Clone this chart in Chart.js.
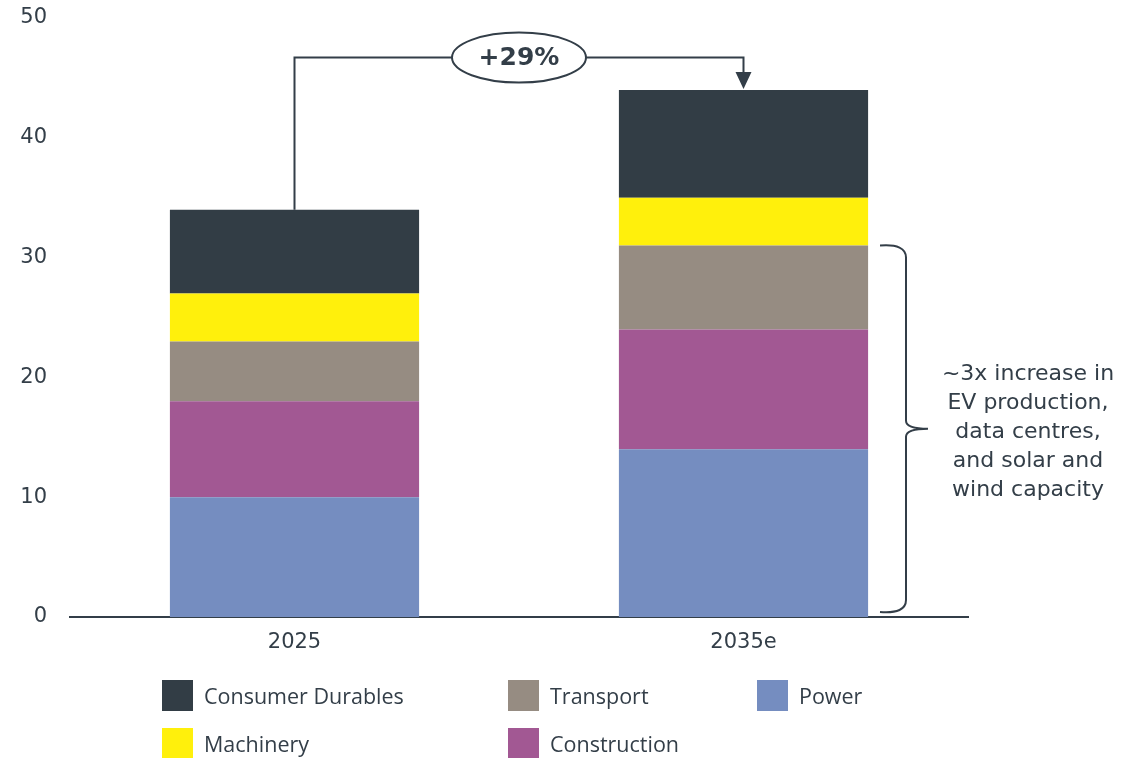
<!DOCTYPE html>
<html>
<head>
<meta charset="utf-8">
<script src="https://cdn.jsdelivr.net/npm/chart.js@4.4.1/dist/chart.umd.min.js"></script>
<style>
  html, body { margin: 0; padding: 0; background: #ffffff; }
  #wrap { position: relative; width: 1137px; height: 758px; overflow: hidden; }
  #c { position: absolute; left: 0; top: 0; }
  .leg { position: absolute; font-family: "Open Sans", sans-serif; font-size: 21.5px; color: #333e48; display: flex; align-items: center; white-space: nowrap; height: 31px; }
  .sw { width: 31px; height: 31px; margin-right: 11px; flex: none; }
</style>
</head>
<body>
<div id="wrap">
  <canvas id="c" width="1137" height="758"></canvas>
  <div id="legend"></div>
</div>
<script>
const categories = ['2025', '2035e'];
const power = [10, 14];
const construction = [8, 10];
const transport = [5, 7];
const machinery = [4, 4];
const consumerDurables = [7, 9];
const yTicks = [0, 10, 20, 30, 40, 50];
const growthLabel = '+29%';
const braceLines = ['~3x increase in', 'EV production,', 'data centres,', 'and solar and', 'wind capacity'];

const INK = '#333e48';
const FONT = '"DejaVu Sans", sans-serif';

const datasets = [
  { label: 'Power', data: power, backgroundColor: '#758dc0' },
  { label: 'Construction', data: construction, backgroundColor: '#a25893' },
  { label: 'Transport', data: transport, backgroundColor: '#968c82' },
  { label: 'Machinery', data: machinery, backgroundColor: '#fff00c' },
  { label: 'Consumer Durables', data: consumerDurables, backgroundColor: '#323d45' }
];

const totals = categories.map((_, i) => datasets.reduce((s, d) => s + d.data[i], 0));
const braceTop = power[1] + construction[1] + transport[1];

const annot = {
  id: 'annot',
  afterDatasetsDraw(chart) {
    const ctx = chart.ctx;
    const x = chart.scales.x, y = chart.scales.y;
    ctx.save();
    ctx.strokeStyle = INK;
    ctx.fillStyle = INK;
    ctx.lineWidth = 2;
    // connector
    const x0 = x.getPixelForValue(0), x1 = x.getPixelForValue(1);
    const yTop0 = y.getPixelForValue(totals[0]);
    const yTop1 = y.getPixelForValue(totals[1]);
    const yLine = y.getPixelForValue(46.7);
    ctx.beginPath();
    ctx.moveTo(x0, yTop0);
    ctx.lineTo(x0, yLine);
    ctx.lineTo(x1, yLine);
    ctx.lineTo(x1, yTop1 - 16);
    ctx.stroke();
    ctx.beginPath();
    ctx.moveTo(x1 - 8, yTop1 - 18);
    ctx.lineTo(x1 + 8, yTop1 - 18);
    ctx.lineTo(x1, yTop1 - 1);
    ctx.closePath();
    ctx.fill();
    // ellipse
    const cx = (x0 + x1) / 2;
    ctx.beginPath();
    ctx.ellipse(cx, yLine, 67, 25, 0, 0, Math.PI * 2);
    ctx.fillStyle = '#ffffff';
    ctx.fill();
    ctx.stroke();
    ctx.fillStyle = INK;
    ctx.font = 'bold 25px ' + FONT;
    ctx.textAlign = 'center';
    ctx.textBaseline = 'middle';
    ctx.fillText(growthLabel, cx, yLine + 1);
    // brace
    const bTop = y.getPixelForValue(braceTop);
    const bBot = y.getPixelForValue(0) - 5;
    const bMid = (bTop + bBot) / 2;
    const bx = chart.chartArea.right - 62;
    ctx.beginPath();
    ctx.moveTo(bx - 26, bTop);
    ctx.quadraticCurveTo(bx, bTop - 2, bx, bTop + 12);
    ctx.lineTo(bx, bMid - 8);
    ctx.quadraticCurveTo(bx, bMid, bx + 22, bMid);
    ctx.moveTo(bx + 22, bMid);
    ctx.quadraticCurveTo(bx, bMid, bx, bMid + 8);
    ctx.lineTo(bx, bBot - 12);
    ctx.quadraticCurveTo(bx, bBot + 2, bx - 26, bBot);
    ctx.stroke();
    ctx.font = '22px ' + FONT;
    ctx.textAlign = 'center';
    const tx = 1028;
    const lh = 29;
    braceLines.forEach((t, i) => {
      ctx.fillText(t, tx, bMid + 3 + (i - (braceLines.length - 1) / 2) * lh);
    });
    ctx.restore();
  }
};

new Chart(document.getElementById('c'), {
  type: 'bar',
  data: { labels: categories, datasets },
  options: {
    responsive: false,
    animation: false,
    layout: { padding: { left: 0, right: 169, top: 18, bottom: 91 } },
    plugins: { legend: { display: false }, tooltip: { enabled: false } },
    datasets: { bar: { barPercentage: 0.555, categoryPercentage: 1.0 } },
    scales: {
      x: {
        stacked: true,
        grid: { display: false, drawTicks: false },
        border: { display: true, color: INK, width: 2 },
        ticks: { color: INK, font: { family: FONT, size: 21 }, padding: 13 },
        afterFit(s) { s.height = 50; }
      },
      y: {
        stacked: true,
        min: 0, max: 50,
        afterBuildTicks(s) { s.ticks = yTicks.map(v => ({ value: v })); },
        grid: { display: false, drawTicks: false },
        border: { display: false },
        ticks: { color: INK, font: { family: FONT, size: 21 }, padding: 23 },
        afterFit(s) { s.width = 70; s.paddingTop = 0; s.paddingBottom = 0; }
      }
    }
  },
  plugins: [annot]
});

// HTML legend (grid of 3 columns)
const legendOrder = ['Consumer Durables', 'Transport', 'Power', 'Machinery', 'Construction'];
const colX = [162, 508, 757];
const rowY = [680, 728];
const legEl = document.getElementById('legend');
legendOrder.forEach((name, i) => {
  const d = datasets.find(ds => ds.label === name);
  const el = document.createElement('div');
  el.className = 'leg';
  el.style.left = colX[i % 3] + 'px';
  el.style.top = rowY[Math.floor(i / 3)] + 'px';
  el.innerHTML = '<div class="sw" style="background:' + d.backgroundColor + '"></div><span>' + name + '</span>';
  legEl.appendChild(el);
});
</script>
</body>
</html>
